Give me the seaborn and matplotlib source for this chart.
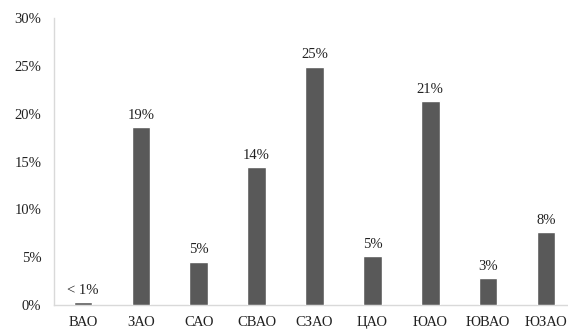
import matplotlib
matplotlib.use("Agg")
import matplotlib.pyplot as plt
import seaborn as sns
import pandas as pd

categories = ["ВАО", "ЗАО", "САО", "СВАО", "СЗАО", "ЦАО", "ЮАО", "ЮВАО", "ЮЗАО"]
values = [0.3, 18.6, 4.5, 14.4, 24.9, 5.1, 21.3, 2.8, 7.6]
labels = ["< 1%", "19%", "5%", "14%", "25%", "5%", "21%", "3%", "8%"]
yticks = [0, 5, 10, 15, 20, 25, 30]
ytick_labels = ["0%", "5%", "10%", "15%", "20%", "25%", "30%"]

sns.set_theme(style="white")
plt.rcParams["font.family"] = ["Liberation Serif", "DejaVu Serif"]

df = pd.DataFrame({"cat": categories, "val": values})

fig = plt.figure(figsize=(5.68, 3.34), dpi=100)
ax = fig.add_axes([54 / 568, 29 / 334, 521 / 568, 287 / 334])
sns.barplot(data=df, x="cat", y="val", color="#595959", saturation=1, width=0.32, ax=ax)

for i, (v, lab) in enumerate(zip(values, labels)):
    ax.annotate(lab, (i, v), xytext=(0, 4), textcoords="offset points",
                ha="center", va="bottom", fontsize=10.5, color="#222222")

ax.set_xlim(-0.5, len(categories) - 0.5)
ax.set_ylim(0, 30)
ax.set_yticks(yticks)
ax.set_yticklabels(ytick_labels)
ax.set_xlabel("")
ax.set_ylabel("")
ax.tick_params(axis="x", labelsize=10.5, colors="#222222", length=0, pad=8)
ax.tick_params(axis="y", labelsize=10.5, colors="#222222", length=0, pad=9)
for s in ["top", "right"]:
    ax.spines[s].set_visible(False)
ax.spines["left"].set_color("#d9d9d9")
ax.spines["bottom"].set_color("#d9d9d9")
ax.spines["left"].set_linewidth(1)
ax.spines["bottom"].set_linewidth(1)
ax.spines["bottom"].set_zorder(0)

fig.savefig("out.png", dpi=100)
